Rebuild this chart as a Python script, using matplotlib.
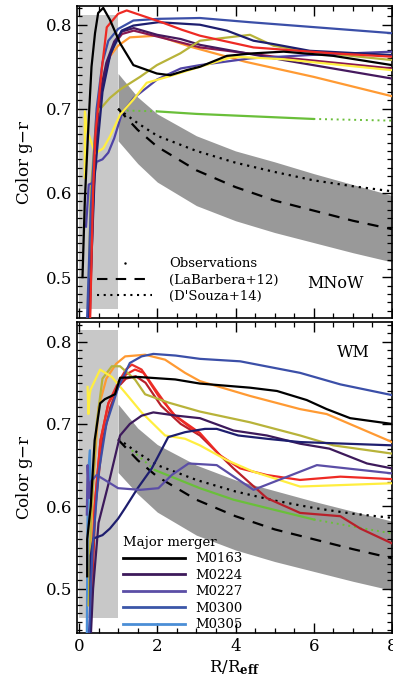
import matplotlib
matplotlib.use('Agg')
import matplotlib.pyplot as plt
from matplotlib.lines import Line2D
from matplotlib.ticker import MultipleLocator

plt.rcParams['font.family'] = ['DejaVu Serif']
plt.rcParams['mathtext.fontset'] = 'dejavuserif'

# observations (upper panel, MNoW)
obs_r = [1, 1.5, 2, 3, 4, 5, 6, 7, 8]
band_hi_top = [0.742, 0.714, 0.694, 0.668, 0.650, 0.637, 0.623, 0.610, 0.597]
band_lo_top = [0.662, 0.635, 0.613, 0.585, 0.567, 0.553, 0.541, 0.529, 0.518]
labarbera_top = [0.700, 0.675, 0.655, 0.627, 0.607, 0.591, 0.579, 0.567, 0.557]
dsouza_top = [0.700, 0.683, 0.668, 0.650, 0.636, 0.625, 0.615, 0.608, 0.602]

# observations (lower panel, WM)
band_hi_bot = [0.724, 0.695, 0.675, 0.650, 0.632, 0.619, 0.606, 0.594, 0.582]
band_lo_bot = [0.641, 0.615, 0.593, 0.565, 0.547, 0.533, 0.521, 0.509, 0.498]
labarbera_bot = [0.681, 0.656, 0.636, 0.608, 0.588, 0.572, 0.560, 0.548, 0.537]
dsouza_bot = [0.682, 0.665, 0.650, 0.632, 0.618, 0.607, 0.598, 0.591, 0.586]

# simulated profiles, upper panel: (colour, R, g-r)
top_lines = [
    ('#ff9a33', [0.25, 0.32, 0.45, 0.6, 0.75, 1.0, 1.3, 2.0, 2.84, 4.25, 6.0, 8.0],
     [0.44, 0.55, 0.68, 0.735, 0.76, 0.775, 0.785, 0.787, 0.774, 0.756, 0.738, 0.715]),
    ('#8a1850', [0.27, 0.37, 0.5, 0.7, 0.9, 1.1, 1.4, 2.0, 2.6, 3.1, 5.0, 8.0],
     [0.44, 0.60, 0.70, 0.75, 0.777, 0.789, 0.793, 0.786, 0.779, 0.773, 0.762, 0.748]),
    ('#45195e', [0.25, 0.35, 0.5, 0.7, 0.9, 1.1, 1.4, 2.0, 2.6, 3.1, 5.23, 8.0],
     [0.44, 0.60, 0.71, 0.755, 0.78, 0.792, 0.796, 0.788, 0.783, 0.776, 0.758, 0.736]),
    ('#b8b33a', [0.25, 0.3, 0.45, 0.79, 1.05, 1.56, 1.99, 2.59, 3.09, 4.37, 4.97, 5.9, 8.0],
     [0.50, 0.60, 0.695, 0.713, 0.723, 0.738, 0.752, 0.766, 0.781, 0.788, 0.775, 0.768, 0.758]),
    ('#4f43a5', [0.18, 0.25, 0.35, 0.45, 0.6, 0.75, 0.9, 1.1, 1.4, 2.0, 2.6, 3.09, 4.37, 5.9, 8.0],
     [0.56, 0.61, 0.612, 0.637, 0.640, 0.648, 0.665, 0.695, 0.713, 0.735, 0.748, 0.752, 0.760, 0.764, 0.768]),
    ('#ffee40', [0.15, 0.15, 0.22, 0.26, 0.41, 0.62, 0.79, 1.05, 1.39, 1.73, 2.33, 3.09, 3.95, 5.23, 8.0],
     [0.618, 0.697, 0.671, 0.668, 0.647, 0.653, 0.667, 0.693, 0.711, 0.731, 0.739, 0.750, 0.762, 0.759, 0.746]),
    ('#1e1e6e', [0.25, 0.4, 0.6, 0.8, 1.09, 1.39, 2.03, 3.09, 3.78, 4.46, 4.97, 5.9, 8.0],
     [0.44, 0.62, 0.72, 0.765, 0.793, 0.799, 0.803, 0.800, 0.793, 0.781, 0.777, 0.769, 0.764]),
    ('#3b4fa8', [0.2, 0.3, 0.45, 0.6, 0.75, 1.0, 1.39, 2.03, 3.09, 4.37, 8.0],
     [0.44, 0.58, 0.70, 0.755, 0.781, 0.795, 0.805, 0.807, 0.808, 0.803, 0.790]),
    ('#ee2a24', [0.28, 0.36, 0.42, 0.58, 0.71, 1.0, 1.22, 1.6, 2.11, 2.63, 3.09, 4.46, 6.5, 8.0],
     [0.44, 0.60, 0.670, 0.746, 0.797, 0.813, 0.817, 0.811, 0.803, 0.794, 0.787, 0.773, 0.766, 0.762]),
    ('#000000', [0.09, 0.15, 0.24, 0.32, 0.41, 0.49, 0.62, 0.79, 1.05, 1.39, 1.99, 2.33, 2.75, 3.09, 3.78, 4.46, 5.23, 6.5, 8.0],
     [0.500, 0.592, 0.679, 0.750, 0.790, 0.814, 0.820, 0.806, 0.778, 0.752, 0.742, 0.740, 0.746, 0.750, 0.763, 0.766, 0.768, 0.763, 0.752]),
]
green_top_r = [1.22, 1.99, 3.0, 4.0, 5.0, 5.99, 8.0]
green_top_v = [0.698, 0.697, 0.694, 0.692, 0.690, 0.688, 0.686]

# simulated profiles, lower panel
bot_lines = [
    ('#4b8ed6', [0.2, 0.22, 0.25, 0.28, 0.3],
     [0.44, 0.59, 0.65, 0.668, 0.60]),
    ('#b8202a', [0.3, 0.42, 0.6, 0.8, 1.0, 1.2, 1.45, 1.7, 2.1, 2.6, 3.09, 3.95, 4.8, 5.65, 6.68, 7.19, 8.0],
     [0.46, 0.60, 0.68, 0.72, 0.745, 0.755, 0.758, 0.750, 0.722, 0.700, 0.686, 0.646, 0.610, 0.592, 0.588, 0.573, 0.555]),
    ('#e8302a', [0.29, 0.4, 0.55, 0.75, 1.0, 1.2, 1.35, 1.6, 1.95, 2.4, 3.0],
     [0.46, 0.60, 0.68, 0.725, 0.750, 0.766, 0.772, 0.766, 0.742, 0.712, 0.690]),
    ('#ee2a24', [0.28, 0.4, 0.55, 0.75, 1.0, 1.2, 1.43, 1.65, 2.03, 2.46, 3.09, 3.6, 4.12, 4.8, 5.65, 6.68, 8.0],
     [0.48, 0.60, 0.68, 0.725, 0.745, 0.760, 0.766, 0.762, 0.734, 0.710, 0.689, 0.662, 0.646, 0.638, 0.632, 0.636, 0.633]),
    ('#ff9a33', [0.25, 0.35, 0.5, 0.7, 0.95, 1.18, 1.69, 2.2, 2.71, 3.09, 4.37, 5.65, 6.33, 8.0],
     [0.48, 0.62, 0.72, 0.755, 0.773, 0.782, 0.784, 0.778, 0.762, 0.752, 0.734, 0.718, 0.712, 0.678]),
    ('#b8b33a', [0.25, 0.3, 0.45, 0.6, 0.84, 1.05, 1.43, 1.69, 2.28, 3.09, 4.37, 5.65, 6.5, 8.0],
     [0.48, 0.58, 0.70, 0.755, 0.770, 0.770, 0.754, 0.736, 0.726, 0.715, 0.702, 0.686, 0.674, 0.664]),
    ('#ffee40', [0.22, 0.24, 0.27, 0.3, 0.54, 0.84, 1.18, 1.6, 2.2, 2.71, 3.09, 3.78, 4.46, 5.65, 8.0],
     [0.745, 0.712, 0.735, 0.742, 0.766, 0.757, 0.738, 0.714, 0.686, 0.682, 0.674, 0.656, 0.642, 0.624, 0.628]),
    ('#3d1a5b', [0.3, 0.36, 0.5, 0.79, 1.05, 1.3, 1.6, 1.9, 2.5, 3.09, 3.95, 4.8, 5.65, 6.4, 7.36, 8.0],
     [0.44, 0.50, 0.58, 0.634, 0.686, 0.700, 0.710, 0.714, 0.710, 0.707, 0.692, 0.686, 0.676, 0.670, 0.652, 0.646]),
    ('#1e1e6e', [0.28, 0.3, 0.37, 0.6, 0.79, 1.0, 1.18, 1.5, 1.86, 2.28, 2.71, 3.22, 3.52, 4.07, 4.8, 5.65, 8.0],
     [0.44, 0.54, 0.561, 0.565, 0.573, 0.585, 0.598, 0.622, 0.646, 0.684, 0.690, 0.694, 0.694, 0.686, 0.682, 0.678, 0.674]),
    ('#5b4ea6', [0.2, 0.22, 0.26, 0.3, 0.45, 0.66, 1.0, 1.56, 2.03, 2.37, 2.8, 3.52, 4.46, 6.08, 8.0],
     [0.59, 0.65, 0.61, 0.63, 0.638, 0.632, 0.622, 0.620, 0.622, 0.638, 0.652, 0.650, 0.620, 0.650, 0.640]),
    ('#3b4fa8', [0.25, 0.35, 0.5, 0.7, 1.0, 1.3, 1.6, 1.9, 2.47, 3.09, 4.12, 5.65, 6.68, 8.0],
     [0.44, 0.55, 0.64, 0.70, 0.744, 0.774, 0.782, 0.785, 0.783, 0.779, 0.776, 0.762, 0.748, 0.735]),
    ('#000000', [0.21, 0.21, 0.3, 0.4, 0.54, 0.66, 0.92, 1.05, 1.52, 2.46, 3.09, 4.37, 5.06, 5.82, 6.33, 6.93, 8.0],
     [0.515, 0.56, 0.60, 0.68, 0.725, 0.730, 0.736, 0.756, 0.757, 0.754, 0.749, 0.744, 0.740, 0.729, 0.718, 0.707, 0.700]),
]
green_bot_r = [1.35, 1.94, 3.09, 3.95, 4.8, 6.0, 8.0]
green_bot_v = [0.668, 0.644, 0.622, 0.608, 0.598, 0.584, 0.567]

merger_names = ['M0163', 'M0224', 'M0227', 'M0300', 'M0305']
merger_colors = ['#000000', '#3d1a5b', '#5b4ea6', '#3b56a8', '#4b8ed6']


def style_axis(ax, ylim):
    ax.set_xlim(-0.05, 8.0)
    ax.set_ylim(*ylim)
    ax.xaxis.set_major_locator(MultipleLocator(2))
    ax.xaxis.set_minor_locator(MultipleLocator(0.5))
    ax.yaxis.set_major_locator(MultipleLocator(0.1))
    ax.yaxis.set_minor_locator(MultipleLocator(0.01))
    ax.tick_params(which='both', direction='in', top=True, right=True, labelsize=12)
    ax.tick_params(which='major', length=7, width=1)
    ax.tick_params(which='minor', length=3.5, width=0.9)
    for s in ax.spines.values():
        s.set_linewidth(1.2)
    ax.set_ylabel('Color g$-$r', fontsize=12, labelpad=8)


def draw_obs(ax, rect, hi, lo, lab, dso):
    ax.fill_between([0, 1], rect[0], rect[1], color='#c8c8c8', lw=0, zorder=1)
    ax.fill_between(obs_r, lo, hi, color='#999999', lw=0, zorder=1)
    ax.plot(obs_r, lab, color='black', ls=(0, (5, 4)), lw=1.6, zorder=2)
    ax.plot(obs_r, dso, color='black', ls=(0, (1, 2.2)), lw=1.6, zorder=2)


def draw_green(ax, r, v):
    ax.plot(r[:2], v[:2], color='#6abf3a', ls=(0, (1, 2)), lw=1.4, zorder=3)
    ax.plot(r[1:-1], v[1:-1], color='#6abf3a', lw=1.6, zorder=3)
    ax.plot(r[-2:], v[-2:], color='#6abf3a', ls=(0, (1, 2)), lw=1.4, zorder=3)


fig = plt.figure(figsize=(3.93, 6.92), dpi=100)
ax1 = fig.add_axes([0.196, 0.540, 0.8015, 0.451])
ax2 = fig.add_axes([0.196, 0.085, 0.8015, 0.450])

# upper panel
draw_obs(ax1, (0.462, 0.812), band_hi_top, band_lo_top, labarbera_top, dsouza_top)
draw_green(ax1, green_top_r, green_top_v)
for c, r, v in top_lines:
    ax1.plot(r, v, color=c, lw=1.6, zorder=4)
style_axis(ax1, (0.451, 0.822))
ax1.tick_params(labelbottom=False)
ax1.text(0.73, 0.11, 'MNoW', transform=ax1.transAxes, fontsize=11.5, va='center')
h_obs = [Line2D([], [], ls='none', marker='.', ms=1.5, color='black'),
         Line2D([], [], color='black', ls=(0, (5, 4)), lw=1.5),
         Line2D([], [], color='black', ls=(0, (1, 2.2)), lw=1.5)]
ax1.legend(h_obs, ['Observations', '(LaBarbera+12)', "(D'Souza+14)"],
           loc='upper left', bbox_to_anchor=(0.063, 0.196), frameon=False,
           fontsize=9.5, handlelength=4.2, handletextpad=1.3,
           labelspacing=0.26, borderpad=0, borderaxespad=0)

# lower panel
draw_obs(ax2, (0.465, 0.814), band_hi_bot, band_lo_bot, labarbera_bot, dsouza_bot)
draw_green(ax2, green_bot_r, green_bot_v)
for c, r, v in bot_lines:
    ax2.plot(r, v, color=c, lw=1.6, zorder=4)
style_axis(ax2, (0.446, 0.824))
ax2.set_xlabel(r'R/R$_{\mathbf{eff}}$', fontsize=12, labelpad=2)
ax2.text(0.825, 0.9, 'WM', transform=ax2.transAxes, fontsize=11.5, va='center')
h_mm = [Line2D([], [], color=c, lw=2) for c in merger_colors]
ax2.legend(h_mm, merger_names, title='Major merger', loc='upper left',
           bbox_to_anchor=(0.145, 0.312), frameon=False, fontsize=9.5,
           title_fontsize=9.5, handlelength=4.7, handletextpad=0.8,
           labelspacing=0.26, borderpad=0, borderaxespad=0, alignment='left')

fig.savefig('out.png', dpi=100)
